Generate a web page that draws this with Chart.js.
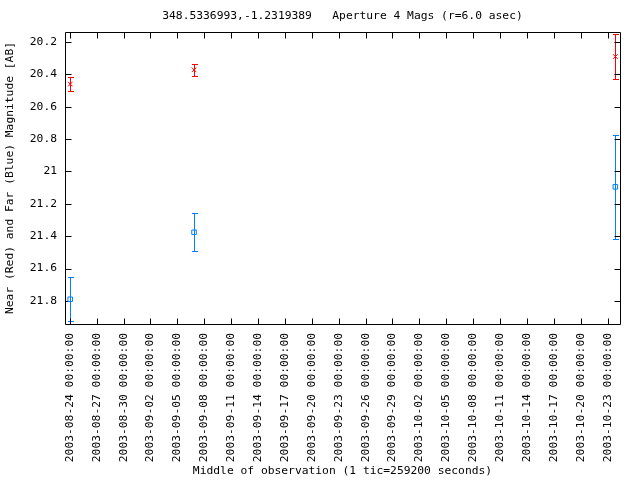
<!DOCTYPE html>
<html><head><meta charset="utf-8">
<script src="https://cdn.jsdelivr.net/npm/chart.js@4/dist/chart.umd.min.js"></script>
<style>html,body{margin:0;padding:0;background:#fff}canvas{display:block}</style>
</head><body>
<canvas id="c" width="640" height="480"></canvas>
<script>
const titleText = '348.5336993,-1.2319389   Aperture 4 Mags (r=6.0 asec)';
const xTitle = 'Middle of observation (1 tic=259200 seconds)';
const yTitle = 'Near (Red) and Far (Blue) Magnitude [AB]';
const obsTimes = ['2003-08-24 01:10', '2003-09-06 20:40', '2003-10-23 20:40'];
const nearMag = [20.46, 20.372, 20.29];
const nearErr = [0.043, 0.035, 0.14];
const farMag = [21.79, 21.376, 21.095];
const farErr = [0.137, 0.118, 0.322];
const tickDates = ['2003-08-24 00:00:00','2003-08-27 00:00:00','2003-08-30 00:00:00','2003-09-02 00:00:00',
  '2003-09-05 00:00:00','2003-09-08 00:00:00','2003-09-11 00:00:00','2003-09-14 00:00:00','2003-09-17 00:00:00',
  '2003-09-20 00:00:00','2003-09-23 00:00:00','2003-09-26 00:00:00','2003-09-29 00:00:00','2003-10-02 00:00:00',
  '2003-10-05 00:00:00','2003-10-08 00:00:00','2003-10-11 00:00:00','2003-10-14 00:00:00','2003-10-17 00:00:00',
  '2003-10-20 00:00:00','2003-10-23 00:00:00'];
const yTicks = [20.2, 20.4, 20.6, 20.8, 21.0, 21.2, 21.4, 21.6, 21.8];
const xRange = ['2003-08-23 11:10', '2003-10-24 09:10'];
const yRange = [20.138, 21.943];

const FONT = {family: '"DejaVu Sans Mono", "Liberation Mono", monospace', size: 11.3};
const RED = '#ff0000', BLUE = '#0080ff';
function toDay(s) { return Date.parse(s.replace(' ', 'T') + 'Z') / 86400000; }

const errorBars = {
  id: 'errorBars',
  beforeDatasetsDraw(chart) {
    const ctx = chart.ctx, xs = chart.scales.x, ys = chart.scales.y;
    ctx.save();
    chart.data.datasets.forEach(ds => {
      ctx.strokeStyle = ds.borderColor; ctx.lineWidth = 1;
      ds.data.forEach((p, i) => {
        const e = ds.errors[i];
        const x = Math.round(xs.getPixelForValue(p.x)) + 0.5;
        const y1 = Math.round(ys.getPixelForValue(p.y - e)) + 0.5;
        const y2 = Math.round(ys.getPixelForValue(p.y + e)) + 0.5;
        ctx.beginPath();
        ctx.moveTo(x, y1); ctx.lineTo(x, y2);
        ctx.moveTo(x - 2.5, y1); ctx.lineTo(x + 3.5, y1);
        ctx.moveTo(x - 2.5, y2); ctx.lineTo(x + 3.5, y2);
        ctx.stroke();
      });
    });
    ctx.restore();
  }
};

const frame = {
  id: 'frame',
  beforeDatasetsDraw(chart) {
    const ctx = chart.ctx, a = chart.chartArea, xs = chart.scales.x, ys = chart.scales.y;
    const L = Math.round(a.left) + 0.5, R = Math.round(a.right) + 0.5;
    const T = Math.round(a.top) + 0.5, B = Math.round(a.bottom) + 0.5;
    const tl = 6;
    ctx.save();
    ctx.strokeStyle = '#000'; ctx.lineWidth = 1;
    ctx.beginPath();
    ctx.rect(L, T, R - L, B - T);
    xs.ticks.forEach(t => {
      const x = Math.round(xs.getPixelForValue(t.value)) + 0.5;
      ctx.moveTo(x, B); ctx.lineTo(x, B - tl);
      ctx.moveTo(x, T); ctx.lineTo(x, T + tl);
    });
    ys.ticks.forEach(t => {
      const y = Math.round(ys.getPixelForValue(t.value)) + 0.5;
      ctx.moveTo(L, y); ctx.lineTo(L + tl, y);
      ctx.moveTo(R, y); ctx.lineTo(R - tl, y);
    });
    ctx.stroke();
    ctx.restore();
  },
  afterDraw(chart) {
    const ctx = chart.ctx, a = chart.chartArea;
    ctx.save();
    ctx.fillStyle = '#000';
    ctx.font = FONT.size + 'px ' + FONT.family;
    ctx.textAlign = 'center'; ctx.textBaseline = 'middle';
    ctx.fillText(titleText, (a.left + a.right) / 2, 16);
    ctx.restore();
  }
};

Chart.defaults.font.family = FONT.family;
Chart.defaults.font.size = FONT.size;
Chart.defaults.color = '#000';

new Chart(document.getElementById('c'), {
  type: 'scatter',
  data: {
    datasets: [
      {label: 'Near', data: obsTimes.map((t, i) => ({x: toDay(t), y: nearMag[i]})), errors: nearErr,
       borderColor: RED, backgroundColor: 'rgba(0,0,0,0)', pointStyle: 'crossRot', pointRadius: 3.2, borderWidth: 1},
      {label: 'Far', data: obsTimes.map((t, i) => ({x: toDay(t), y: farMag[i]})), errors: farErr,
       borderColor: BLUE, backgroundColor: 'rgba(0,0,0,0)', pointStyle: 'rect', pointRadius: 3.2, borderWidth: 1}
    ]
  },
  options: {
    responsive: false,
    animation: false,
    events: [],
    layout: {padding: {top: 32, right: 20, left: 0, bottom: 0}},
    plugins: {legend: {display: false}, tooltip: {enabled: false}, title: {display: false}},
    scales: {
      x: {
        type: 'linear',
        min: toDay(xRange[0]), max: toDay(xRange[1]),
        grid: {display: false, drawTicks: false},
        border: {display: false},
        afterBuildTicks: s => { s.ticks = tickDates.map(d => ({value: toDay(d)})); },
        afterFit: s => { s.height = 156; },
        ticks: {autoSkip: false, maxRotation: 90, minRotation: 90, padding: 9,
                callback: (v, i) => tickDates[i]},
        title: {display: true, text: xTitle, padding: {top: 0, bottom: 2}}
      },
      y: {
        type: 'linear', reverse: true,
        min: yRange[0], max: yRange[1],
        grid: {display: false, drawTicks: false},
        border: {display: false},
        afterBuildTicks: s => { s.ticks = yTicks.map(v => ({value: v})); },
        afterFit: s => { s.width = 65; },
        ticks: {padding: 8, callback: v => String(+Number(v).toFixed(1))},
        title: {display: true, text: yTitle, padding: {top: 3, bottom: 0}}
      }
    }
  },
  plugins: [errorBars, frame]
});
</script>
</body></html>
